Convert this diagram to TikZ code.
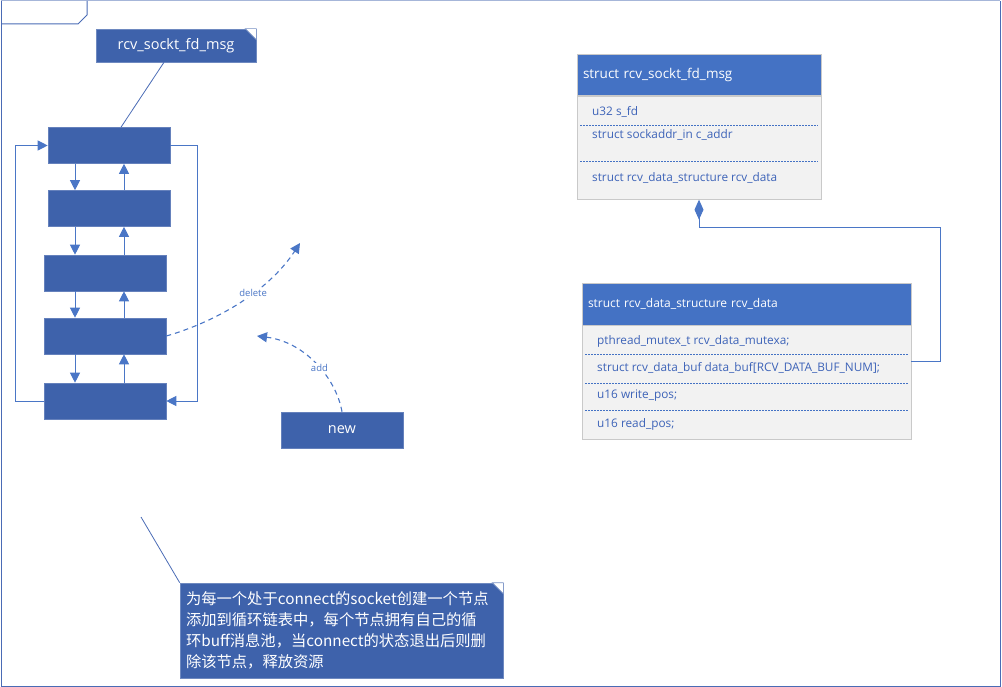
\documentclass[tikz,border=0pt]{standalone}
\usepackage{fontspec}
\setmainfont{Open Sans}
\newfontfamily\cjkfont{Noto Sans CJK SC}
\usetikzlibrary{arrows.meta,positioning,calc}
\definecolor{Frame}{HTML}{4A6BB5}
\definecolor{FrameTop}{HTML}{A6B6D9}
\definecolor{NodeBlue}{HTML}{3E62AB}
\definecolor{HeadBlue}{HTML}{4472C4}
\definecolor{BodyGray}{HTML}{F2F2F2}
\definecolor{EdgeGray}{HTML}{C9C9C9}
\definecolor{Link}{HTML}{4A76C6}
\definecolor{Field}{HTML}{3D63B8}
\tikzset{
  listnode/.style={rectangle,fill=NodeBlue,draw=NodeBlue!80!white,line width=0.6pt,inner sep=0pt,minimum width=122pt,minimum height=36pt},
  notebox/.style={rectangle,fill=NodeBlue,draw=NodeBlue!75!white,line width=0.6pt,inner sep=0pt,text=white},
  classhead/.style={rectangle,fill=HeadBlue,draw=EdgeGray,line width=0.8pt,inner xsep=6pt,inner ysep=0pt,align=left,text=white,font=\fontsize{13.5}{16}\selectfont},
  classbody/.style={rectangle,fill=BodyGray,draw=EdgeGray,line width=0.8pt,inner sep=0pt},
  field/.style={anchor=west,inner sep=0pt,text=Field,font=\fontsize{11.8}{14}\selectfont},
  sep/.style={HeadBlue,line width=0.8pt,dash pattern=on 2pt off 1pt},
  link/.style={Link,line width=1pt,-{Triangle[width=10pt,length=10pt]}},
  flow/.style={Link,line width=1.1pt,dash pattern=on 5pt off 4pt,-{Triangle[width=10pt,length=10pt]}},
  tag/.style={fill=white,inner sep=1pt,text=Link,font=\fontsize{9.5}{11}\selectfont},
  tie/.style={Frame,line width=0.8pt},
  compose/.style={Link,line width=1pt,{Diamond[width=9pt,length=20pt]}-}
}
\newcommand{\dogear}[2]{%
  \filldraw[fill=white,draw=NodeBlue!70!white,line width=0.6pt] ($(#1.north east)+(-#2,0)$) -- ($(#1.north east)+(0,#2)$) -- (#1.north east) -- cycle;}

\begin{document}
\begin{tikzpicture}[x=1pt,y=-1pt]
\useasboundingbox (0,0) rectangle (1002,687);
\draw[FrameTop,line width=1pt] (1,1) -- (1000,1);
\draw[Frame,line width=1pt] (1,1) -- (1,686) -- (1000,686) -- (1000,1);
\draw[Frame,line width=1pt] (1,24) -- (78,24) -- (87,15) -- (87,1);
\node[notebox,minimum width=160pt,minimum height=33pt,font=\fontsize{14.5}{17}\selectfont] (note1) at (176,45.5) {rcv\_sockt\_fd\_msg};
\dogear{note1}{11}
\node[listnode] (n1) at (109,145.5) {};
\node[listnode] (n2) at (109,208.5) {};
\node[listnode] (n3) at (105,273) {};
\node[listnode] (n4) at (105,336) {};
\node[listnode] (n5) at (105,401) {};
\coordinate (dx) at (75,0);
\coordinate (ux) at (124,0);
\draw[tie] ($(note1.south)+(-12,0)$) -- ($(n1.north)+(12,0)$);
\draw[link] (n1.south -| dx) -- (n2.north -| dx);
\draw[link] (n2.south -| dx) -- (n3.north -| dx);
\draw[link] (n3.south -| dx) -- (n4.north -| dx);
\draw[link] (n4.south -| dx) -- (n5.north -| dx);
\draw[link] (n5.north -| ux) -- (n4.south -| ux);
\draw[link] (n4.north -| ux) -- (n3.south -| ux);
\draw[link] (n3.north -| ux) -- (n2.south -| ux);
\draw[link] (n2.north -| ux) -- (n1.south -| ux);
\draw[link] (n5.west) -- ++(-28,0) |- (n1.west);
\draw[link] (n1.east) -- ++(27,0) |- (n5.east);
\node[listnode,text=white,font=\fontsize{14.5}{17}\selectfont] (new) at (342,430) {new};
\coordinate (gone) at (300,243);
\coordinate (slot) at (257,336);
\draw[flow] (n4.east) .. controls (215,322) and (268,292) .. node[tag,pos=0.6] {delete} (gone);
\draw[flow] (new.north) .. controls (336,378) and (305,342) .. node[tag,pos=0.45] {add} (slot);
\node[notebox,minimum width=323pt,minimum height=95pt,text width=311pt,align=left,font=\cjkfont\fontsize{15.3}{21}\selectfont] (note2) at (341.5,630.5) {为每一个处于connect的socket创建一个节点\\添加到循环链表中，每个节点拥有自己的循\\环buff消息池，当connect的状态退出后则删\\除该节点，释放资源};
\dogear{note2}{11}
\coordinate (tip) at (141,517);
\draw[tie] (tip) -- (note2.north west);
\node[classhead,minimum height=41pt,text width=232pt] (c1head) at (699,75) {struct rcv\_sockt\_fd\_msg};
\node[classbody,minimum width=244pt,minimum height=103pt,below=0pt of c1head] (c1body) {};
\node[field] (c1f1) at (592,112) {u32 s\_fd};
\node[field] (c1f2) at (592,135) {struct sockaddr\_in c\_addr};
\node[field] (c1f3) at (592,178) {struct rcv\_data\_structure rcv\_data};
\draw[sep] (580,125) -- (818,125);
\draw[sep] (580,161) -- (818,161);
\node[classhead,minimum height=42pt,text width=317pt,font=\fontsize{12}{14}\selectfont] (c2head) at (746.5,304) {struct rcv\_data\_structure rcv\_data};
\node[classbody,minimum width=329pt,minimum height=114pt,below=0pt of c2head] (c2body) {};
\node[field] (c2f1) at (597,341) {pthread\_mutex\_t rcv\_data\_mutexa;};
\node[field] (c2f2) at (597,368) {struct rcv\_data\_buf data\_buf[RCV\_DATA\_BUF\_NUM];};
\node[field] (c2f3) at (597,396) {u16 write\_pos;};
\node[field] (c2f4) at (597,424) {u16 read\_pos;};
\draw[sep] (585,354) -- (908,354);
\draw[sep] (585,383) -- (908,383);
\draw[sep] (585,410) -- (908,410);
\coordinate (hook) at (940,228);
\coordinate (c2link) at (c2body.east |- 0,361);
\draw[compose] (c1body.south) |- (hook) |- (c2link);
\end{tikzpicture}
\end{document}
